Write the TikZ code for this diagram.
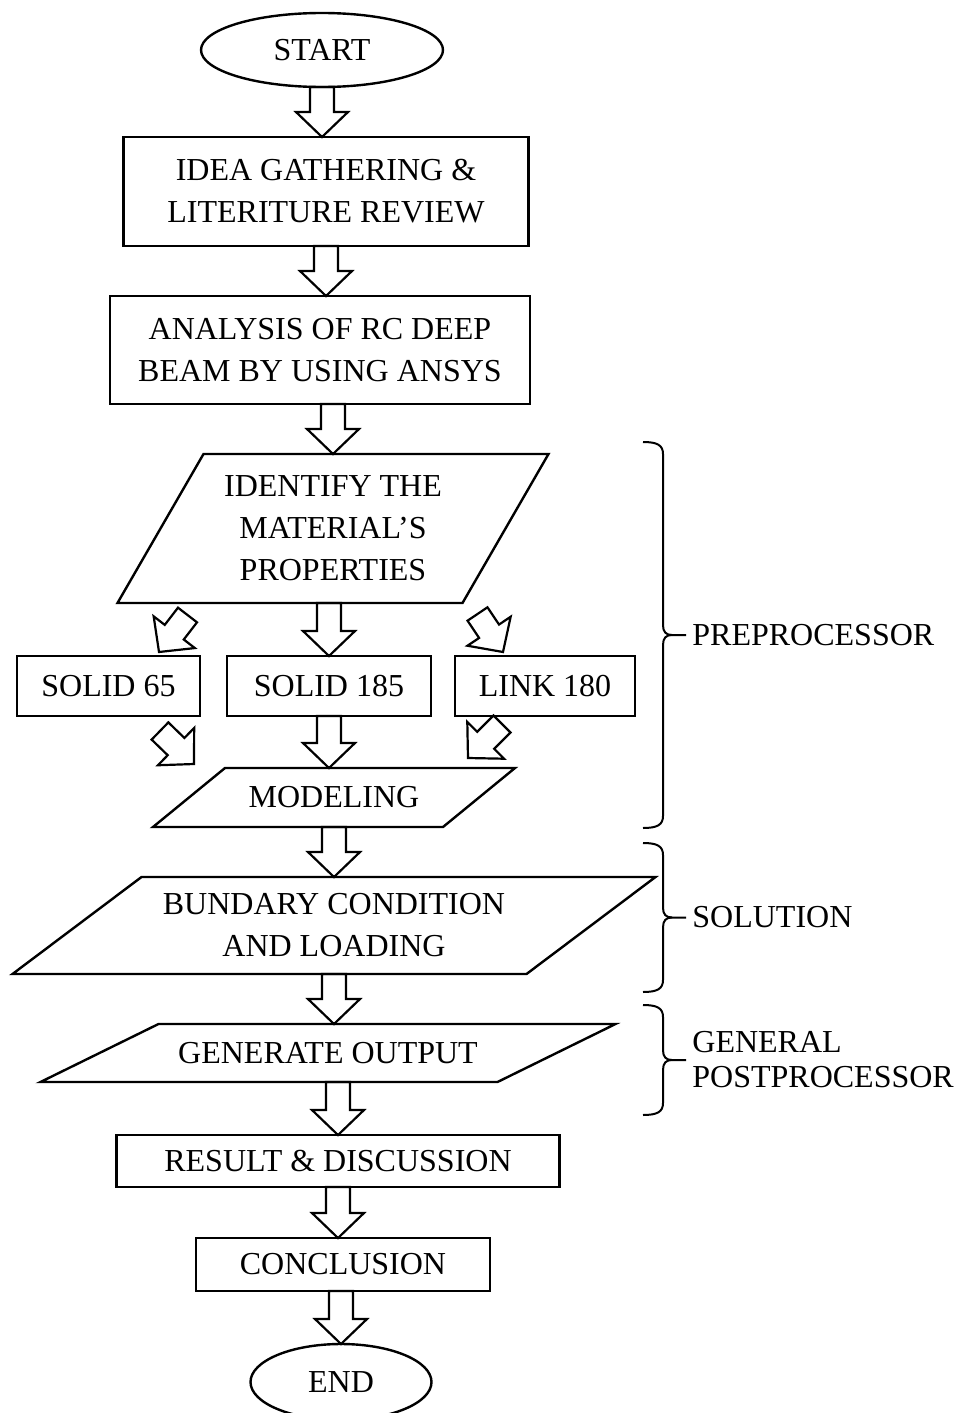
\documentclass[tikz,border=0pt]{standalone}
\usepackage{fontspec}
\setmainfont{Liberation Serif}
\usetikzlibrary{positioning,shapes.geometric,calc}

% hollow block arrow from #1 (tail) to #2 (tip)
\newcommand{\blockarrow}[2]{%
  \coordinate (ba-a) at (#1);
  \coordinate (ba-b) at (#2);
  \coordinate (ba-h) at ($(ba-b)!12.5pt!(ba-a)$);
  \draw[hollow] ($(ba-a)!6pt!90:(ba-b)$) -- ($(ba-h)!6pt!90:(ba-b)$) -- ($(ba-h)!13pt!90:(ba-b)$) -- (ba-b)
    -- ($(ba-h)!13pt!-90:(ba-b)$) -- ($(ba-h)!6pt!-90:(ba-b)$) -- ($(ba-a)!6pt!-90:(ba-b)$) -- cycle;}

% parallelogram round node #1, leaning right by #2
\newcommand{\slantframe}[2]{%
  \draw[frameline] ([xshift=#2]#1.north west) -- (#1.north east) -- ([xshift=-#2]#1.south east) -- (#1.south west) -- cycle;}

% right brace between y=#1 and y=#2, tip named #3
\newcommand{\groupbrace}[3]{%
  \pgfmathsetmacro{\bmid}{(#1+#2)/2}
  \draw[bracel] (643,#1) .. controls (657,#1) and (663,{#1+3}) .. (663,{#1+12}) -- (663,{\bmid-10})
    .. controls (663,{\bmid-3}) and (666,\bmid) .. (672,\bmid) -- (686,\bmid);
  \draw[bracel] (672,\bmid) .. controls (666,\bmid) and (663,{\bmid+3}) .. (663,{\bmid+10}) -- (663,{#2-12})
    .. controls (663,{#2-3}) and (657,#2) .. (643,#2);
  \coordinate (#3) at (686,\bmid);}

\begin{document}
\begin{tikzpicture}[x=0.5pt,y=-0.5pt,node distance=25pt]
% flow of the RC deep beam study
\tikzstyle{boxbase} = [draw=black, line width=1.2pt, outer sep=0pt, inner sep=2pt, align=center, font=\fontsize{16pt}{21pt}\selectfont]
\tikzstyle{terminal} = [boxbase, ellipse]
\tikzstyle{process} = [boxbase, rectangle]
\tikzstyle{iobox} = [boxbase, rectangle, draw=none]
\tikzstyle{frameline} = [line width=1.2pt, line join=miter]
\tikzstyle{hollow} = [line width=1.1pt, line join=miter]
\tikzstyle{bracel} = [line width=1pt]
\tikzstyle{grouplabel} = [anchor=west, inner sep=3pt, align=left, font=\fontsize{16pt}{17.5pt}\selectfont]

\useasboundingbox (0,0) rectangle (958,1413);

\node (start) [terminal, minimum width=121pt, minimum height=37pt] at (322,50) {START};
\node (idea) [process, below=of start, xshift=2pt, minimum width=202.5pt, minimum height=54.5pt] {IDEA GATHERING \&\\LITERITURE REVIEW};
\node (analysis) [process, below=of idea, xshift=-3pt, minimum width=210pt, minimum height=54pt] {ANALYSIS OF RC DEEP\\BEAM BY USING ANSYS};
\node (identify) [iobox, below=of analysis, xshift=6.5pt, minimum width=215.5pt, minimum height=74.5pt] {IDENTIFY THE\\MATERIAL’S\\PROPERTIES};
\node (solid185) [process, below=26.5pt of identify, xshift=-2pt, minimum width=102pt, minimum height=30pt] {SOLID 185};
\node (solid65) [process, left=13.5pt of solid185, minimum width=91.5pt, minimum height=30pt] {SOLID 65};
\node (link) [process, right=12pt of solid185, minimum width=90pt, minimum height=30pt] {LINK 180};
\node (modeling) [iobox, below=26pt of solid185, xshift=2.5pt, minimum width=181pt, minimum height=29.5pt] {MODELING};
\node (bundary) [iobox, below=of modeling, minimum width=321.5pt, minimum height=48.5pt] {BUNDARY CONDITION\\AND LOADING};
\node (generate) [iobox, below=of bundary, xshift=-3pt, minimum width=287.5pt, minimum height=29pt] {GENERATE OUTPUT};
\node (result) [process, below=26.5pt of generate, xshift=5pt, minimum width=221.5pt, minimum height=26pt] {RESULT \& DISCUSSION};
\node (conclusion) [process, below=25.5pt of result, xshift=2.5pt, minimum width=147pt, minimum height=26.5pt] {CONCLUSION};
\node (end) [terminal, below=26.5pt of conclusion, xshift=-1pt, minimum width=90.5pt, minimum height=38pt] {END};

\slantframe{identify}{43pt}
\slantframe{modeling}{36pt}
\slantframe{bundary}{64.5pt}
\slantframe{generate}{59pt}

\blockarrow{start.south}{start.south |- idea.north}
\blockarrow{idea.south}{idea.south |- analysis.north}
\blockarrow{identify.north |- analysis.south}{identify.north}
\blockarrow{solid185.north |- identify.south}{solid185.north}
\blockarrow{solid185.south}{solid185.south |- modeling.north}
\blockarrow{modeling.south}{bundary.north}
\blockarrow{bundary.south}{bundary.south |- generate.north}
\blockarrow{result.north |- generate.south}{result.north}
\blockarrow{result.south}{result.south |- conclusion.north}
\blockarrow{end.north |- conclusion.south}{end.north}

% side branches
\coordinate (out65) at ([xshift=35pt,yshift=-6pt]identify.south west);
\coordinate (outlink) at ([xshift=-35.5pt,yshift=-5.5pt]identify.south east);
\coordinate (back65) at ([xshift=-20pt,yshift=-7.5pt]solid65.south east);
\coordinate (backlink) at ([xshift=23.5pt,yshift=-4pt]link.south west);
\blockarrow{out65}{[xshift=-20.5pt,yshift=2pt]solid65.north east}
\blockarrow{outlink}{[xshift=24pt,yshift=2pt]link.north west}
\blockarrow{back65}{[xshift=20.5pt,yshift=2pt]modeling.north west}
\blockarrow{backlink}{[xshift=-23.5pt,yshift=5pt]modeling.north east}

\groupbrace{442}{828}{pre}
\node (preproc) [grouplabel] at (pre) {PREPROCESSOR};
\groupbrace{843}{992}{sol}
\node (solution) [grouplabel] at (sol) {SOLUTION};
\groupbrace{1005}{1115}{post}
\node (postproc) [grouplabel] at (post) {GENERAL\\POSTPROCESSOR};
\end{tikzpicture}
\end{document}
